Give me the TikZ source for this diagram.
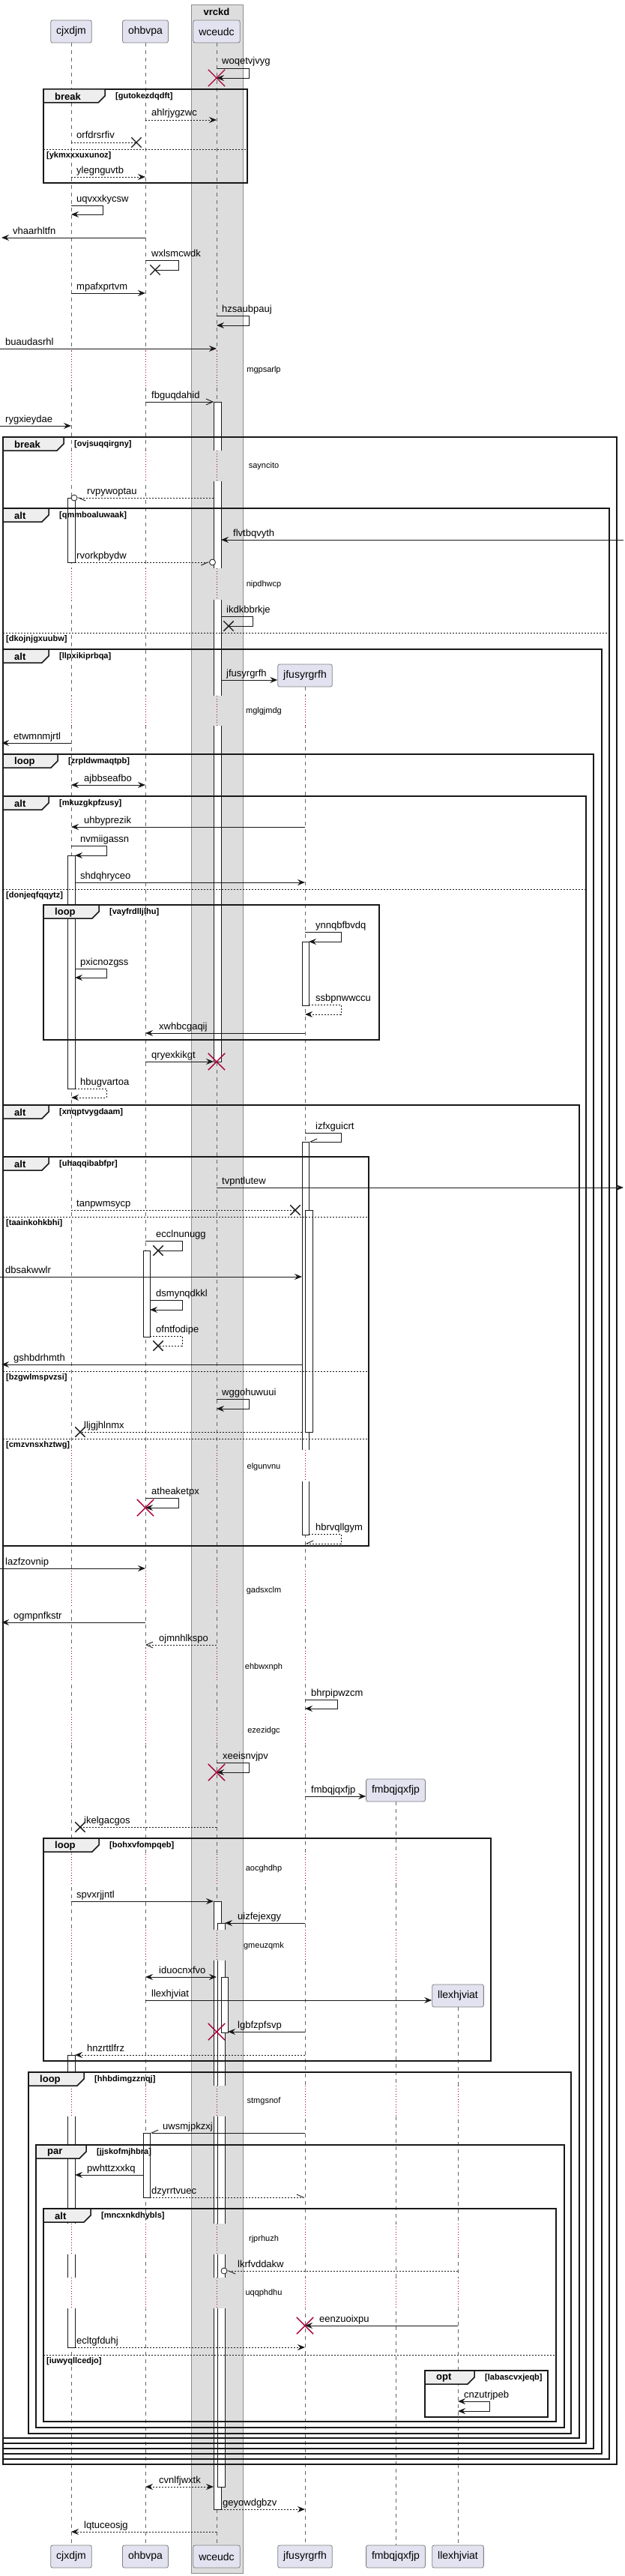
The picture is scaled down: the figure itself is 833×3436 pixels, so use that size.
\documentclass[tikz,border=0pt]{standalone}
\usepackage{fontspec}
\setmainfont{Liberation Sans}
\usetikzlibrary{arrows.meta,shapes.misc}
\definecolor{cPart}{HTML}{E2E2F0}
\definecolor{cBox} {HTML}{DDDDDD}
\definecolor{cTab} {HTML}{EEEEEE}
\definecolor{cKill}{HTML}{A80036}
\definecolor{cLine}{HTML}{181818}
\tikzset{
  part/.style    ={draw=black!50,fill=cPart,rounded corners=2.5pt,minimum height=30pt,
                   inner xsep=7.5pt,line width=0.8pt,font=\fontsize{14}{16}\selectfont},
  grpbox/.style  ={draw=black!45,fill=cBox,line width=0.8pt},
  grptitle/.style={font=\bfseries\fontsize{13}{15}\selectfont,inner sep=0pt},
  life/.style    ={draw=black!60,dash pattern=on 5pt off 5pt,line width=0.7pt},
  dly/.style     ={draw=cKill,dash pattern=on 1pt off 2.5pt,line width=0.8pt},
  actv/.style    ={draw=cLine,fill=white,line width=0.8pt},
  msg/.style     ={draw=cLine,line width=0.9pt,->},
  ret/.style     ={msg,dash pattern=on 2pt off 2pt},
  bi/.style      ={msg,<->},
  asy/.style     ={msg,-{Straight Barb[length=9pt,width=8pt]}},
  hb/.style      ={msg,-{Straight Barb[length=9pt,width=8pt,#1]}},
  lbl/.style     ={anchor=base west,inner sep=0pt,font=\fontsize{13}{15}\selectfont},
  dlbl/.style    ={inner sep=0pt,font=\fontsize{11}{13}\selectfont},
  frm/.style     ={draw=cLine,line width=1.5pt},
  tabst/.style   ={draw=cLine,fill=cTab,line width=1.5pt},
  fkind/.style   ={anchor=west,inner sep=0pt,font=\bfseries\fontsize{13}{15}\selectfont},
  fcond/.style   ={anchor=west,inner sep=0pt,font=\bfseries\fontsize{11}{13}\selectfont},
  sep/.style     ={draw=cLine,line width=0.9pt,dash pattern=on 2pt off 2pt},
  xlost/.style   ={cross out,draw=cLine,line width=1.4pt,minimum size=12pt,inner sep=0pt},
  xkill/.style   ={cross out,draw=cKill,line width=1.4pt,minimum size=21pt,inner sep=0pt},
  ocirc/.style   ={circle,draw=cLine,fill=white,minimum size=8pt,inner sep=0pt,line width=0.8pt},
}

\begin{document}
\begin{tikzpicture}[x=1pt,y=-1pt,>={Stealth[length=10pt,width=8pt,inset=3.5pt]}]
\useasboundingbox (0,0) rectangle (833,3436);

% ---- box vrckd -----------------------------------------------------------
\draw[grpbox] (255,6) rectangle (324,3432);
\node[grptitle] (vrckd) at (289,16) {vrckd};

% ---- participants --------------------------------------------------------
\node[part] (cjxdjm)     at (95,42)    {cjxdjm};
\node[part] (ohbvpa)     at (194,42)   {ohbvpa};
\node[part] (wceudc)     at (289,42)   {wceudc};
\node[part] (jfusyrgrfh) at (407,901)  {jfusyrgrfh};
\node[part] (fmbqjqxfjp) at (528,2388) {fmbqjqxfjp};
\node[part] (llexhjviat) at (611,2662) {llexhjviat};
\foreach \p/\x in {cjxdjm/95,ohbvpa/194,wceudc/289,jfusyrgrfh/407,fmbqjqxfjp/528,llexhjviat/611}
  \node[part] (\p-f) at (\x,3410) {\p};
\foreach \p in {cjxdjm,ohbvpa,wceudc,jfusyrgrfh,fmbqjqxfjp,llexhjviat}
  \draw[life] (\p.south) -- (\p-f.north);

% edges of the page and edges of the activation bars
\coordinate (L) at (2,0);     \coordinate (R) at (832,0);
\coordinate (cjR) at (100,0);
\coordinate (ohL) at (191,0); \coordinate (ohR) at (200,0);
\coordinate (wcL) at (285,0); \coordinate (wcR) at (295,0);
\coordinate (wcR2) at (300,0); \coordinate (wcR3) at (304,0);
\coordinate (jfL) at (403,0); \coordinate (jfR) at (412,0);

% ---- activations ---------------------------------------------------------
\foreach \xa/\xb/\ya/\yb in {285/295/536/1416,90/100/664/750,90/100/1141/1452,
    403/412/1256/1341,403/412/1523/2047,407/417/1614/1910,191/200/1668/1783,
    285/295/2536/3347,290/300/2565/3317,295/304/2637/2711,90/100/2741/3131,
    191/200/2845/2931}
  \draw[actv] (\xa,\ya) rectangle (\xb,\yb);

% ---- delays --------------------------------------------------------------
\foreach \ya/\yb/\t/\yt/\n in {468/515/mgpsarlp/494/3,601/642/sayncito/622/3,
    758/800/nipdhwcp/780/3,928/968/mglgjmdg/949/4,1934/1976/elgunvnu/1957/4,
    2095/2142/gadsxclm/2122/4,2198/2243/ehbwxnph/2224/4,2286/2327/ezezidgc/2309/4,
    2473/2513/aocghdhp/2493/5,2574/2615/gmeuzqmk/2596/5,2782/2823/stmgsnof/2803/6,
    2966/3007/rjprhuzh/2987/6,3038/3079/uqqphdhu/3059/6}{
  \foreach \x/\c/\h [count=\j] in {95/white/11,194/white/11,289/cBox/16,
      407/white/11,528/white/11,611/white/11}{
    \ifnum\j>\n\relax\else
      \fill[\c] (\x-\h,\ya) rectangle (\x+\h,\yb);
      \draw[dly] (\x,\ya) -- (\x,\yb);
    \fi}
  \node[dlbl] (d\yt) at (352,\yt) {\t};
}

% ---- fragments -----------------------------------------------------------
\foreach \xa/\ya/\xb/\yb/\k/\c/\w [count=\i] in {
    58/119/330/244/break/gutokezdqdft/82,
    4/583/823/3287/break/ovjsuqqirgny/81,
    4/678/813/3280/alt/qmmboaluwaak/61,
    4/866/803/3273/alt/llpxikiprbqa/61,
    4/1006/792/3266/loop/zrpldwmaqtpb/73,
    4/1062/782/3259/alt/mkuzgkpfzusy/61,
    58/1207/506/1387/loop/vayfrdlljlhu/74,
    4/1474/773/3252/alt/xnqptvygdaam/61,
    4/1543/492/2062/alt/uhaqqibabfpr/61,
    58/2452/655/2749/loop/bohxvfompqeb/74,
    38/2764/762/3246/loop/hhbdimgzznqj/74,
    48/2861/753/3238/par/jjskofmjhbra/67,
    58/2946/742/3230/alt/mncxnkdhybls/63,
    567/3162/731/3224/opt/labascvxjeqb/66}{
  \draw[frm] (\xa,\ya) rectangle (\xb,\yb);
  \draw[tabst] (\xa,\ya) -- ++(\w,0) -- ++(0,9) -- ++(-9,9) -- (\xa,\ya+18) -- cycle;
  \node[fkind] (fk\i) at (\xa+15,\ya+10) {\k};
  \node[fcond] (fc\i) at (\xa+\w+14,\ya+10) {[\c]};
}
\foreach \xa/\xb/\y/\c [count=\i] in {58/330/199/ykmxxxuxunoz,4/813/844/dkojnjgxuubw,
    4/782/1186/donjeqfqqytz,4/492/1623/taainkohkbhi,4/492/1829/bzgwlmspvzsi,
    4/492/1919/cmzvnsxhztwg,58/742/3141/iuwyqllcedjo}{
  \draw[sep] (\xa,\y) -- (\xb,\y);
  \node[fcond] (el\i) at (\xa+4,\y+9) {[\c]};
}

% ---- messages, top -------------------------------------------------------
\draw[msg] (wceudc |- 0,91) -- (332,91) -- (332,104) -- (wceudc |- 0,104);
\node[lbl] (woqetvjvyg) at (296,86) {woqetvjvyg};
\node[xkill] (k1) at (wceudc |- 0,104) {};
\draw[ret] (ohbvpa |- 0,160) -- (wceudc |- 0,160);
\node[lbl] (ahlrjygzwc) at (202,155) {ahlrjygzwc};
\draw[ret,-] (cjxdjm |- 0,190) -- (182,190);
\node[xlost] (x1) at (182,190) {};
\node[lbl] (orfdrsrfiv) at (102,185) {orfdrsrfiv};
\draw[ret] (cjxdjm |- 0,236) -- (ohbvpa |- 0,236);
\node[lbl] (ylegnguvtb) at (102,231) {ylegnguvtb};
\draw[msg] (cjxdjm |- 0,274) -- (137,274) -- (137,286) -- (cjxdjm |- 0,286);
\node[lbl] (uqvxxkycsw) at (102,269) {uqvxxkycsw};
\draw[msg] (ohbvpa |- 0,317) -- (L |- 0,317);
\node[lbl] (vhaarhltfn) at (17,312) {vhaarhltfn};
\draw[msg,-] (ohbvpa |- 0,347) -- (238,347) -- (238,360) -- (207,360);
\node[xlost] (x2) at (207,360) {};
\node[lbl] (wxlsmcwdk) at (202,342) {wxlsmcwdk};
\draw[msg] (cjxdjm |- 0,391) -- (ohbvpa |- 0,391);
\node[lbl] (mpafxprtvm) at (102,386) {mpafxprtvm};
\draw[msg] (wceudc |- 0,421) -- (332,421) -- (332,434) -- (wceudc |- 0,434);
\node[lbl] (hzsaubpauj) at (296,416) {hzsaubpauj};
\draw[msg] (0,465) -- (wceudc |- 0,465);
\node[lbl] (buaudasrhl) at (7,460) {buaudasrhl};
\draw[asy] (ohbvpa |- 0,536) -- (wcL |- 0,536);
\node[lbl] (fbguqdahid) at (202,531) {fbguqdahid};
\draw[msg] (0,568) -- (cjxdjm |- 0,568);
\node[lbl] (rygxieydae) at (7,563) {rygxieydae};

% ---- messages, break / alt -----------------------------------------------
\draw[ret,hb=left] (wcL |- 0,664) -- (103,664);
\node[ocirc] (c1) at (99,664) {};
\node[lbl] (rvpywoptau) at (116,659) {rvpywoptau};
\draw[msg] (R |- 0,720) -- (wcR |- 0,720);
\node[lbl] (flvtbqvyth) at (311,715) {flvtbqvyth};
\draw[ret,hb=right] (cjR |- 0,750) -- (279.5,750);
\node[ocirc] (c2) at (283.5,750) {};
\node[lbl] (rvorkpbydw) at (102,745) {rvorkpbydw};
\draw[msg,-] (wcR |- 0,822) -- (337,822) -- (337,835) -- (305,835);
\node[xlost] (x3) at (305,835) {};
\node[lbl] (ikdkbbrkje) at (302,817) {ikdkbbrkje};
\draw[msg] (wcR |- 0,907) -- (jfusyrgrfh.west |- 0,907);
\node[lbl] (m-jfusyrgrfh) at (302,902) {jfusyrgrfh};
\draw[msg] (cjxdjm |- 0,991) -- (L |- 0,991);
\node[lbl] (etwmnmjrtl) at (18,986) {etwmnmjrtl};
\draw[bi] (cjxdjm |- 0,1047) -- (ohbvpa |- 0,1047);
\node[lbl] (ajbbseafbo) at (112,1042) {ajbbseafbo};
\draw[msg] (jfusyrgrfh |- 0,1103) -- (cjxdjm |- 0,1103);
\node[lbl] (uhbyprezik) at (112,1098) {uhbyprezik};
\draw[msg] (cjxdjm |- 0,1128) -- (142,1128) -- (142,1141) -- (cjR |- 0,1141);
\node[lbl] (nvmiigassn) at (107,1123) {nvmiigassn};
\draw[msg] (cjR |- 0,1177) -- (jfusyrgrfh |- 0,1177);
\node[lbl] (shdqhryceo) at (107,1172) {shdqhryceo};

% ---- messages, loop vayfrdlljlhu -----------------------------------------
\draw[msg] (jfusyrgrfh |- 0,1243) -- (455,1243) -- (455,1256) -- (jfR |- 0,1256);
\node[lbl] (ynnqbfbvdq) at (421,1238) {ynnqbfbvdq};
\draw[msg] (cjR |- 0,1292) -- (142,1292) -- (142,1304) -- (cjR |- 0,1304);
\node[lbl] (pxicnozgss) at (107,1287) {pxicnozgss};
\draw[ret] (jfR |- 0,1340) -- (455,1340) -- (455,1353) -- (jfusyrgrfh |- 0,1353);
\node[lbl] (ssbpnwwccu) at (421,1335) {ssbpnwwccu};
\draw[msg] (jfusyrgrfh |- 0,1378) -- (ohbvpa |- 0,1378);
\node[lbl] (xwhbcgaqij) at (212,1373) {xwhbcgaqij};
\draw[msg] (ohbvpa |- 0,1416) -- (wcL |- 0,1416);
\node[xkill] (k2) at (wceudc |- 0,1416) {};
\node[lbl] (qryexkikgt) at (202,1411) {qryexkikgt};
\draw[ret] (cjR |- 0,1452) -- (142,1452) -- (142,1464) -- (cjxdjm |- 0,1464);
\node[lbl] (hbugvartoa) at (107,1447) {hbugvartoa};

% ---- messages, alt xnqptvygdaam ------------------------------------------
\draw[hb=right] (jfusyrgrfh |- 0,1511) -- (455,1511) -- (455,1523) -- (jfR |- 0,1523);
\node[lbl] (izfxguicrt) at (421,1506) {izfxguicrt};
\draw[msg] (wceudc |- 0,1584) -- (R |- 0,1584);
\node[lbl] (tvpntlutew) at (296,1579) {tvpntlutew};
\draw[ret,-] (cjxdjm |- 0,1614) -- (394,1614);
\node[xlost] (x4) at (394,1614) {};
\node[lbl] (tanpwmsycp) at (102,1609) {tanpwmsycp};
\draw[msg,-] (ohbvpa |- 0,1655) -- (243,1655) -- (243,1668) -- (211,1668);
\node[xlost] (x5) at (211,1668) {};
\node[lbl] (ecclnunugg) at (208,1650) {ecclnunugg};
\draw[msg] (0,1703) -- (jfL |- 0,1703);
\node[lbl] (dbsakwwlr) at (7,1698) {dbsakwwlr};
\draw[msg] (ohR |- 0,1734) -- (243,1734) -- (243,1747) -- (ohR |- 0,1747);
\node[lbl] (dsmynqdkkl) at (208,1729) {dsmynqdkkl};
\draw[ret,-] (ohR |- 0,1782) -- (243,1782) -- (243,1795) -- (211,1795);
\node[xlost] (x6) at (211,1795) {};
\node[lbl] (ofntfodipe) at (208,1777) {ofntfodipe};
\draw[msg] (jfL |- 0,1820) -- (L |- 0,1820);
\node[lbl] (gshbdrhmth) at (18,1815) {gshbdrhmth};
\draw[msg] (wceudc |- 0,1866) -- (332,1866) -- (332,1879) -- (wceudc |- 0,1879);
\node[lbl] (wggohuwuui) at (296,1861) {wggohuwuui};
\draw[ret,-] (jfL |- 0,1910) -- (107,1910);
\node[xlost] (x7) at (107,1910) {};
\node[lbl] (lljgjhlnmx) at (112,1905) {lljgjhlnmx};
\draw[msg] (ohbvpa |- 0,1998) -- (238,1998) -- (238,2011) -- (ohbvpa |- 0,2011);
\node[xkill] (k3) at (ohbvpa |- 0,2011) {};
\node[lbl] (atheaketpx) at (202,1993) {atheaketpx};
\draw[ret,hb=right] (jfR |- 0,2046) -- (455,2046) -- (455,2059) -- (jfusyrgrfh |- 0,2059);
\node[lbl] (hbrvqllgym) at (421,2041) {hbrvqllgym};
\draw[msg] (0,2092) -- (ohbvpa |- 0,2092);
\node[lbl] (lazfzovnip) at (7,2087) {lazfzovnip};
\draw[msg] (ohbvpa |- 0,2164) -- (L |- 0,2164);
\node[lbl] (ogmpnfkstr) at (18,2159) {ogmpnfkstr};
\draw[asy,dash pattern=on 2pt off 2pt] (wceudc |- 0,2194) -- (ohbvpa |- 0,2194);
\node[lbl] (ojmnhlkspo) at (212,2189) {ojmnhlkspo};
\draw[msg] (jfusyrgrfh |- 0,2267) -- (450,2267) -- (450,2279) -- (jfusyrgrfh |- 0,2279);
\node[lbl] (bhrpipwzcm) at (415,2262) {bhrpipwzcm};
\draw[msg] (wceudc |- 0,2351) -- (332,2351) -- (332,2364) -- (wceudc |- 0,2364);
\node[xkill] (k4) at (wceudc |- 0,2364) {};
\node[lbl] (xeeisnvjpv) at (297,2346) {xeeisnvjpv};
\draw[msg] (jfusyrgrfh |- 0,2396) -- (fmbqjqxfjp.west |- 0,2396);
\node[lbl] (m-fmbqjqxfjp) at (415,2391) {fmbqjqxfjp};
\draw[ret,-] (wceudc |- 0,2437) -- (107,2437);
\node[xlost] (x8) at (107,2437) {};
\node[lbl] (ikelgacgos) at (112,2432) {ikelgacgos};

% ---- messages, loop bohxvfompqeb -----------------------------------------
\draw[msg] (cjxdjm |- 0,2536) -- (wcL |- 0,2536);
\node[lbl] (spvxrjjntl) at (102,2531) {spvxrjjntl};
\draw[msg] (jfusyrgrfh |- 0,2565) -- (wcR2 |- 0,2565);
\node[lbl] (uizfejexgy) at (317,2560) {uizfejexgy};
\draw[bi] (ohbvpa |- 0,2637) -- (wceudc |- 0,2637);
\node[lbl] (iduocnxfvo) at (212,2632) {iduocnxfvo};
\draw[msg] (ohbvpa |- 0,2668) -- (llexhjviat.west |- 0,2668);
\node[lbl] (m-llexhjviat) at (202,2663) {llexhjviat};
\draw[msg] (jfusyrgrfh |- 0,2710) -- (wcR3 |- 0,2710);
\node[xkill] (k5) at (wceudc |- 0,2710) {};
\node[lbl] (lgbfzpfsvp) at (317,2705) {lgbfzpfsvp};
\draw[ret] (jfusyrgrfh |- 0,2741) -- (cjR |- 0,2741);
\node[lbl] (hnzrttlfrz) at (116,2736) {hnzrttlfrz};

% ---- messages, loop hhbdimgzznqj -----------------------------------------
\draw[hb=right] (jfusyrgrfh |- 0,2845) -- (ohR |- 0,2845);
\node[lbl] (uwsmjpkzxj) at (217,2840) {uwsmjpkzxj};
\draw[msg] (ohL |- 0,2901) -- (cjR |- 0,2901);
\node[lbl] (pwhttzxxkq) at (116,2896) {pwhttzxxkq};
\draw[ret,hb=left] (ohR |- 0,2931) -- (jfusyrgrfh |- 0,2931);
\node[lbl] (dzyrrtvuec) at (202,2926) {dzyrrtvuec};
\draw[ret,hb=left] (llexhjviat |- 0,3029) -- (303,3029);
\node[ocirc] (c3) at (299,3029) {};
\node[lbl] (lkrfvddakw) at (317,3024) {lkrfvddakw};
\draw[msg] (llexhjviat |- 0,3102) -- (jfusyrgrfh |- 0,3102);
\node[xkill] (k6) at (jfusyrgrfh |- 0,3102) {};
\node[lbl] (eenzuoixpu) at (426,3097) {eenzuoixpu};
\draw[ret] (cjR |- 0,3131) -- (jfusyrgrfh |- 0,3131);
\node[lbl] (ecltgfduhj) at (102,3126) {ecltgfduhj};
\draw[bi] (llexhjviat |- 0,3203) -- (653,3203) -- (653,3216) -- (llexhjviat |- 0,3216);
\node[lbl] (cnzutrjpeb) at (619,3198) {cnzutrjpeb};

% ---- messages, bottom ----------------------------------------------------
\draw[bi,dash pattern=on 2pt off 2pt] (ohbvpa |- 0,3317) -- (wcL |- 0,3317);
\node[lbl] (cvnlfjwxtk) at (212,3312) {cvnlfjwxtk};
\draw[ret] (wcR |- 0,3347) -- (jfusyrgrfh |- 0,3347);
\node[lbl] (geyowdgbzv) at (297,3342) {geyowdgbzv};
\draw[ret] (wceudc |- 0,3377) -- (cjxdjm |- 0,3377);
\node[lbl] (lqtuceosjg) at (112,3372) {lqtuceosjg};
\end{tikzpicture}
\end{document}
